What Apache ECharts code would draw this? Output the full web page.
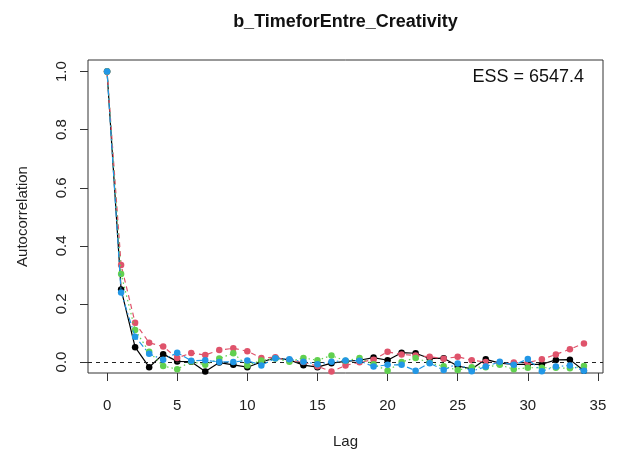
<!DOCTYPE html>
<html>
<head>
<meta charset="utf-8">
<script src="https://cdn.jsdelivr.net/npm/echarts@6/dist/echarts.min.js"></script>
<style>
  html, body { margin: 0; padding: 0; background: #fff; }
  #chart { width: 618px; height: 458px; }
</style>
</head>
<body>
<div id="chart"></div>
<script>
// Autocorrelation of four MCMC chains by lag
const lags = [0,1,2,3,4,5,6,7,8,9,10,11,12,13,14,15,16,17,18,19,20,21,22,23,24,25,26,27,28,29,30,31,32,33,34];
const chain1 = [1, 0.250, 0.051, -0.018, 0.027, 0.002, 0.001, -0.033, -0.002, -0.010, -0.018, 0.000, 0.014, 0.007, -0.011, -0.018, -0.004, 0.002, 0.006, 0.015, 0.006, 0.032, 0.030, 0.012, 0.013, -0.014, -0.024, 0.009, -0.004, -0.008, -0.008, -0.008, 0.007, 0.008, -0.030];
const chain2 = [1, 0.334, 0.135, 0.066, 0.053, 0.014, 0.031, 0.024, 0.041, 0.047, 0.037, 0.014, 0.016, 0.004, 0.000, -0.015, -0.033, -0.012, -0.001, 0.008, 0.035, 0.026, 0.022, 0.018, 0.011, 0.018, 0.006, 0.000, -0.003, -0.002, -0.002, 0.009, 0.026, 0.044, 0.064];
const chain3 = [1, 0.303, 0.110, 0.035, -0.014, -0.025, 0.002, -0.010, 0.012, 0.030, -0.012, 0.005, 0.012, 0.001, 0.014, 0.006, 0.022, 0.004, 0.014, -0.008, -0.030, 0.000, 0.014, -0.003, -0.015, -0.028, -0.018, -0.018, -0.010, -0.025, -0.020, -0.020, -0.020, -0.022, -0.014];
const chain4 = [1, 0.239, 0.087, 0.028, 0.008, 0.032, 0.004, 0.006, 0.000, 0.000, 0.005, -0.012, 0.013, 0.009, 0.001, -0.008, 0.001, 0.005, 0.004, -0.016, -0.010, -0.010, -0.030, -0.004, -0.028, -0.005, -0.032, -0.016, 0.001, -0.010, 0.010, -0.032, -0.016, -0.012, -0.030];
const xTicks = [0, 5, 10, 15, 20, 25, 30, 35];
const yTicks = [0, 0.2, 0.4, 0.6, 0.8, 1.0];
const essLabel = 'ESS = 6547.4';
const chartTitle = 'b_TimeforEntre_Creativity';

const FONT = '"Liberation Sans", Arial, sans-serif';
const AXIS_COLOR = '#333';

const chainStyles = [
  { color: '#000000', dash: 'solid' },
  { color: '#DF536B', dash: [5, 4] },
  { color: '#61D04F', dash: [1.5, 3] },
  { color: '#2297E6', dash: [1.5, 3, 6, 3] }
];

function pairs(values) {
  return lags.map((l, i) => [l, values[i]]);
}

const series = [chain1, chain2, chain3, chain4].map((vals, i) => ({
  type: 'line',
  data: pairs(vals),
  symbol: 'circle',
  symbolSize: 6.5,
  showSymbol: true,
  animation: false,
  itemStyle: { color: chainStyles[i].color },
  lineStyle: { color: chainStyles[i].color, width: 1.2, type: chainStyles[i].dash },
  z: 3 + i
}));

// reference line at zero
series[0].markLine = {
  silent: true,
  symbol: 'none',
  label: { show: false },
  lineStyle: { color: '#222', width: 1, type: [4, 4] },
  data: [{ yAxis: 0 }]
};

const chart = echarts.init(document.getElementById('chart'), null, { renderer: 'canvas' });
chart.setOption({
  backgroundColor: '#ffffff',
  animation: false,
  grid: {
    left: 88, right: 15, top: 60, bottom: 85,
    show: true, borderColor: AXIS_COLOR, borderWidth: 1, backgroundColor: 'transparent'
  },
  xAxis: {
    type: 'value',
    min: -1.36, max: 35.36,
    name: 'Lag',
    nameLocation: 'middle',
    nameGap: 61,
    nameTextStyle: { fontFamily: FONT, fontSize: 15, color: '#222' },
    axisLine: { show: false, onZero: false },
    splitLine: { show: false },
    axisTick: { show: true, length: 8, customValues: xTicks, lineStyle: { color: AXIS_COLOR } },
    axisLabel: { customValues: xTicks, fontFamily: FONT, fontSize: 15, color: '#222', margin: 25 }
  },
  yAxis: {
    type: 'value',
    min: -0.038, max: 1.04,
    name: 'Autocorrelation',
    nameLocation: 'middle',
    nameRotate: 90,
    nameGap: 58,
    nameTextStyle: { fontFamily: FONT, fontSize: 15, color: '#222' },
    axisLine: { show: false, onZero: false },
    splitLine: { show: false },
    axisTick: { show: true, length: 8, customValues: yTicks, lineStyle: { color: AXIS_COLOR } },
    axisLabel: {
      customValues: yTicks, rotate: 90, fontFamily: FONT, fontSize: 15, color: '#222', margin: 19,
      formatter: v => v.toFixed(1)
    }
  },
  graphic: [
    {
      type: 'text', x: 345.5, y: 22,
      style: { text: chartTitle, fontFamily: FONT, fontSize: 18, fontWeight: 'bold', fill: '#111',
               textAlign: 'center', textVerticalAlign: 'middle' }
    },
    {
      type: 'text', x: 584, y: 77,
      style: { text: essLabel, fontFamily: FONT, fontSize: 18, fill: '#111',
               textAlign: 'right', textVerticalAlign: 'middle' }
    }
  ],
  series: series
});
</script>
</body>
</html>
